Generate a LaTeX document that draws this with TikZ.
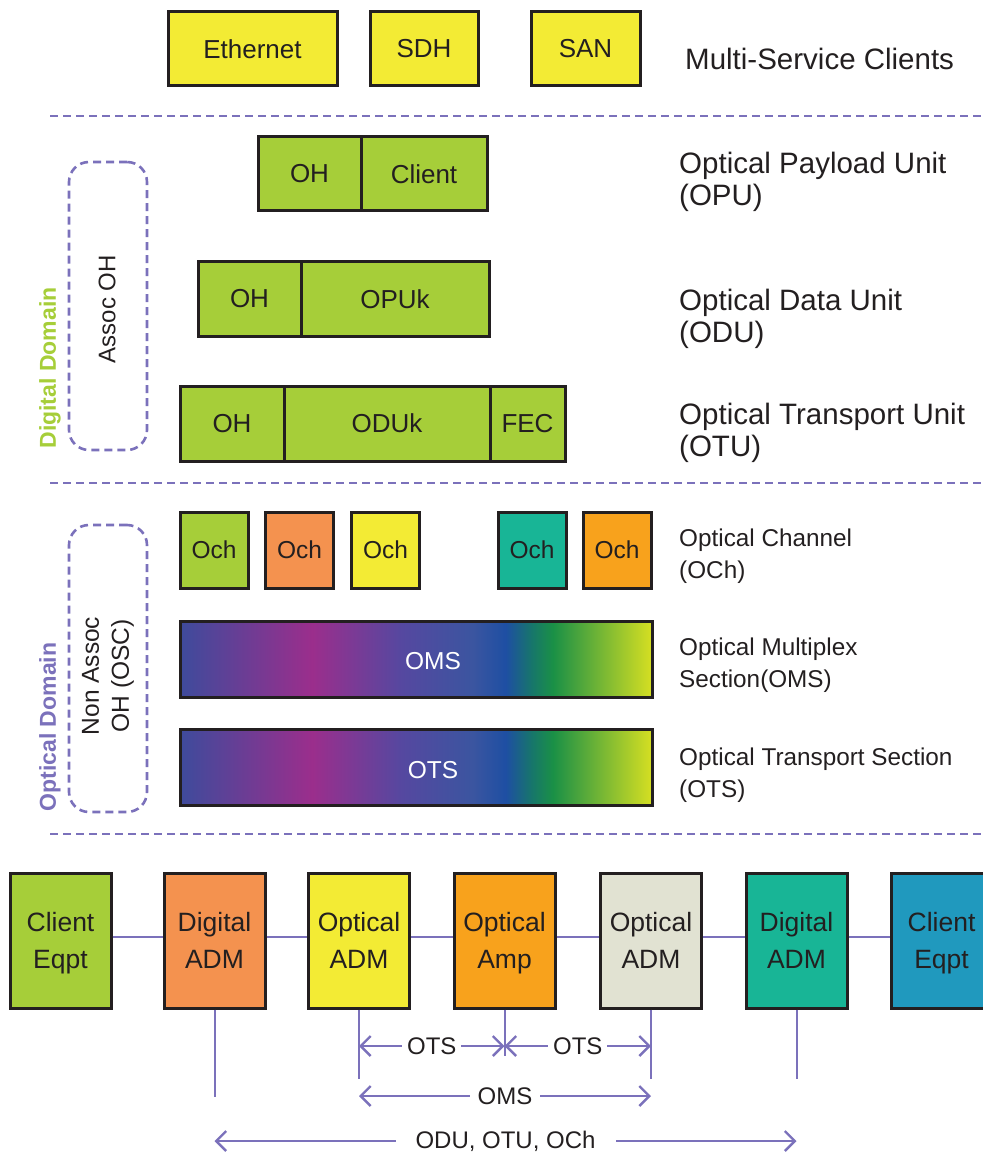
\documentclass[tikz,border=0pt]{standalone}
\usepackage{fontspec}
\setmainfont{Liberation Sans}
\usetikzlibrary{arrows.meta}
\definecolor{ink}{HTML}{231F20}
\definecolor{lav}{HTML}{7B71BB}
\definecolor{cyel}{HTML}{F3EB34}
\definecolor{cgrn}{HTML}{A6CE39}
\definecolor{corg}{HTML}{F4924F}
\definecolor{cteal}{HTML}{18B596}
\definecolor{camb}{HTML}{F8A21C}
\definecolor{cgry}{HTML}{E1E2D2}
\definecolor{cblu}{HTML}{2099BE}
\definecolor{gA}{HTML}{3E4B9C}
\definecolor{gB}{HTML}{9B2E8C}
\definecolor{gC}{HTML}{5548A0}
\definecolor{gD}{HTML}{3B55A0}
\definecolor{gE}{HTML}{1E4FA3}
\definecolor{gF}{HTML}{17766B}
\definecolor{gG}{HTML}{1A9046}
\definecolor{gH}{HTML}{D6DF22}
\pgfdeclarehorizontalshading{optgrad}{100bp}{color(0bp)=(gA); color(25bp)=(gA); color(39bp)=(gB); color(48.5bp)=(gC); color(56bp)=(gD); color(59.5bp)=(gE); color(62.25bp)=(gF); color(64.5bp)=(gG); color(75bp)=(gH); color(100bp)=(gH)}
\begin{document}
\begin{tikzpicture}[x=1pt,y=-1pt,
  box/.style={draw=ink, line width=3pt, inner sep=0pt, text=ink, align=center, font=\fontsize{26}{30}\selectfont},
  ochbox/.style={box, minimum width=68pt, minimum height=76pt, font=\fontsize{24.5}{28}\selectfont},
  botbox/.style={box, minimum width=101pt, minimum height=135pt, text depth=0pt, font=\fontsize{26.5}{37}\selectfont},
  bar/.style={draw=ink, line width=3pt, shading=optgrad, minimum width=472pt, minimum height=76pt, inner sep=0pt, text=white, font=\fontsize{24.5}{28}\selectfont},
  biglbl/.style={anchor=west, align=left, text=ink, inner sep=0pt, font=\fontsize{29.5}{32}\selectfont},
  smlbl/.style={anchor=west, align=left, text=ink, inner sep=0pt, font=\fontsize{24.3}{32}\selectfont},
  domline/.style={draw=lav, line width=2.6pt, dash pattern=on 8pt off 5pt},
  dombox/.style={draw=lav, line width=2.6pt, dash pattern=on 8pt off 5pt, rounded corners=20pt},
  link/.style={draw=lav, line width=2.6pt},
  vline/.style={draw=lav, line width=2pt},
  dim/.style={draw=lav, line width=2.4pt, {Straight Barb[length=10pt,width=20pt,line width=2.4pt]}-{Straight Barb[length=10pt,width=20pt,line width=2.4pt]}},
  dimlbl/.style={fill=white, text=ink, inner ysep=2pt, font=\fontsize{24}{28}\selectfont}
]
\useasboundingbox (0,0) rectangle (982,1155);

% ---------- Multi-service clients
\node[box, fill=cyel, minimum width=169pt, minimum height=74pt] (eth) at (252.5,49) {Ethernet};
\node[box, fill=cyel, minimum width=108pt, minimum height=74pt] (sdh) at (424,49) {SDH};
\node[box, fill=cyel, minimum width=109pt, minimum height=74pt] (san) at (585.5,49) {SAN};
\node[biglbl] (lmsc) at (685,59) {Multi-Service Clients};

\coordinate (d1a) at (50,116); \coordinate (d1b) at (982,116);
\draw[domline] (d1a) -- (d1b);

% ---------- Digital domain
\node[box, fill=cgrn, minimum width=103pt, minimum height=74pt] (oh1) at (309.5,174) {OH};
\node[box, fill=cgrn, minimum width=126pt, minimum height=74pt] (cli) at (424,174) {Client};
\node[biglbl] (lopu) at (679,182) {Optical Payload Unit\\(OPU)};

\node[box, fill=cgrn, minimum width=103pt, minimum height=74pt] (oh2) at (249.5,299) {OH};
\node[box, fill=cgrn, minimum width=188pt, minimum height=74pt] (opuk) at (395,299) {OPUk};
\node[biglbl] (lodu) at (679,318.5) {Optical Data Unit\\(ODU)};

\node[box, fill=cgrn, minimum width=104pt, minimum height=75pt] (oh3) at (232,423.5) {OH};
\node[box, fill=cgrn, minimum width=206pt, minimum height=75pt] (oduk) at (387,423.5) {ODUk};
\node[box, fill=cgrn, minimum width=75pt, minimum height=75pt] (fec) at (527.5,423.5) {FEC};
\node[biglbl] (lotu) at (679,433) {Optical Transport Unit\\(OTU)};

\node[dombox, minimum width=78pt, minimum height=288pt] (assoc) at (108,306) {};
\node[rotate=90, text=ink, font=\fontsize{24}{28}\selectfont] (assoctxt) at (107,309) {Assoc OH};
\node[rotate=90, text=cgrn, font=\bfseries\fontsize{23}{28}\selectfont] (digdom) at (50,368) {Digital Domain};

\coordinate (d2a) at (50,483); \coordinate (d2b) at (982,483);
\draw[domline] (d2a) -- (d2b);

% ---------- Optical domain
\node[ochbox, fill=cgrn] (och1) at (214,550) {Och};
\node[ochbox, fill=corg] (och2) at (299.5,550) {Och};
\node[ochbox, fill=cyel] (och3) at (385.5,550) {Och};
\node[ochbox, fill=cteal] (och4) at (532,550) {Och};
\node[ochbox, fill=camb] (och5) at (617,550) {Och};
\node[smlbl] (loch) at (679,556) {Optical Channel\\(OCh)};

\node[bar] (oms) at (416,659) {};
\node[text=white, font=\fontsize{24.5}{28}\selectfont] (omstxt) at (433,661) {OMS};
\node[smlbl] (loms) at (679,665) {Optical Multiplex\\Section(OMS)};

\node[bar] (ots) at (416,767.5) {};
\node[text=white, font=\fontsize{24.5}{28}\selectfont] (otstxt) at (433,770) {OTS};
\node[smlbl] (lots) at (679,775) {Optical Transport Section\\(OTS)};

\node[dombox, minimum width=78pt, minimum height=287pt] (nonassoc) at (108,668.5) {};
\node[rotate=90, text=ink, align=center, font=\fontsize{24.5}{30}\selectfont] (natxt) at (108,676) {Non Assoc\\OH (OSC)};
\node[rotate=90, text=lav, font=\bfseries\fontsize{23}{28}\selectfont] (optdom) at (50,727) {Optical Domain};

\coordinate (d3a) at (50,834); \coordinate (d3b) at (982,834);
\draw[domline] (d3a) -- (d3b);

% ---------- Network chain
\coordinate (hl) at (0,937);
\node[botbox, fill=cgrn] (ce1) at (60.5,940.5) {Client\\Eqpt};
\node[botbox, fill=corg] (dadm1) at (214.5,940.5) {Digital\\ADM};
\node[botbox, fill=cyel] (oadm1) at (359,940.5) {Optical\\ADM};
\node[botbox, fill=camb] (oamp) at (504.5,940.5) {Optical\\Amp};
\node[botbox, fill=cgry] (oadm2) at (651,940.5) {Optical\\ADM};
\node[botbox, fill=cteal] (dadm2) at (796.5,940.5) {Digital\\ADM};
\node[botbox, fill=cblu] (ce2) at (941.5,940.5) {Client\\Eqpt};

\draw[link] (ce1.east |- hl) -- (dadm1.west |- hl);
\draw[link] (dadm1.east |- hl) -- (oadm1.west |- hl);
\draw[link] (oadm1.east |- hl) -- (oamp.west |- hl);
\draw[link] (oamp.east |- hl) -- (oadm2.west |- hl);
\draw[link] (oadm2.east |- hl) -- (dadm2.west |- hl);
\draw[link] (dadm2.east |- hl) -- (ce2.west |- hl);

\coordinate (v1) at (214.5,1097);
\coordinate (v2) at (359,1079);
\coordinate (v3) at (504.5,1056);
\coordinate (v4) at (651,1079);
\coordinate (v5) at (796.5,1079);
\draw[vline] (dadm1.south) -- (v1);
\draw[vline] (oadm1.south) -- (v2);
\draw[vline] (oamp.south) -- (v3);
\draw[vline] (oadm2.south) -- (v4);
\draw[vline] (dadm2.south) -- (v5);

\coordinate (a1) at (359,1046); \coordinate (a2) at (504.5,1046); \coordinate (a3) at (651,1046);
\draw[dim] (a1) -- (a2) node[midway, dimlbl, inner xsep=5pt] (ots1) {OTS};
\draw[dim] (a2) -- (a3) node[midway, dimlbl, inner xsep=5pt] (ots2) {OTS};
\coordinate (b1) at (359,1096); \coordinate (b2) at (651,1096);
\draw[dim] (b1) -- (b2) node[midway, dimlbl, inner xsep=8pt] (omsd) {OMS};
\coordinate (c1) at (214.5,1141); \coordinate (c2) at (796.5,1141);
\draw[dim] (c1) -- (c2) node[midway, dimlbl, inner xsep=20pt] (odud) {ODU, OTU, OCh};
\end{tikzpicture}
\end{document}
